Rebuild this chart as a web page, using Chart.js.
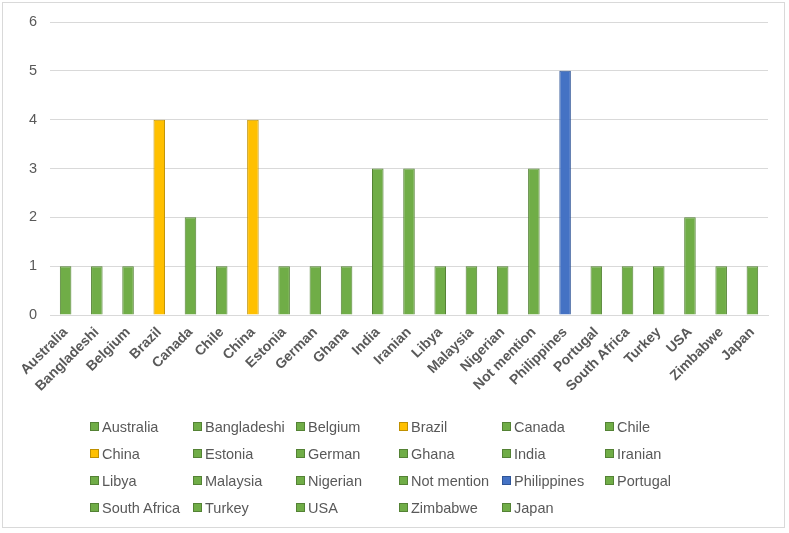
<!DOCTYPE html>
<html>
<head>
<meta charset="utf-8">
<script src="https://cdn.jsdelivr.net/npm/chart.js@4.4.1/dist/chart.umd.min.js"></script>
<style>
  html, body { margin: 0; padding: 0; background: #ffffff; }
  #wrap { position: relative; width: 789px; height: 533px; overflow: hidden; }
  #frame { position: absolute; left: 2px; top: 2px; width: 783px; height: 526px; border: 1px solid #d9d9d9; box-sizing: border-box; pointer-events: none; }
  #c { position: absolute; left: 0; top: 0; }
  #legend { position: absolute; left: 90px; top: 413px; display: grid; grid-template-columns: repeat(6, 103px); grid-auto-rows: 27px; font-family: "Liberation Sans", Arial, sans-serif; font-size: 14.5px; color: #595959; }
  .li { display: flex; align-items: center; white-space: nowrap; }
  .sw { width: 7px; height: 7px; border: 1px solid; margin-right: 3px; flex: none; }
</style>
</head>
<body>
<div id="wrap">
  <canvas id="c" width="789" height="533"></canvas>
  <div id="legend"></div>
  <div id="frame"></div>
</div>
<script>
// ---- data ----
const categories = ["Australia","Bangladeshi","Belgium","Brazil","Canada","Chile","China","Estonia","German","Ghana","India","Iranian","Libya","Malaysia","Nigerian","Not mention","Philippines","Portugal","South Africa","Turkey","USA","Zimbabwe","Japan"];
const counts = [1,1,1,4,2,1,4,1,1,1,3,3,1,1,1,3,5,1,1,1,2,1,1];
const yTicks = [0,1,2,3,4,5,6];

// ---- styles ----
const palette = {
  green:  { fill: "#70AD47", border: "#548235" },
  yellow: { fill: "#FFC000", border: "#BF9000" },
  blue:   { fill: "#4472C4", border: "#2F5597" }
};
const highlight = { "Brazil": "yellow", "China": "yellow", "Philippines": "blue" };
const styleOf = name => palette[highlight[name] || "green"];
const fills = categories.map(n => styleOf(n).fill);
const borders = categories.map(n => styleOf(n).border);

const grey = "#595959";
const chart = new Chart(document.getElementById("c"), {
  type: "bar",
  data: {
    labels: categories,
    datasets: [{
      data: counts,
      backgroundColor: fills,
      borderColor: borders,
      borderWidth: 1,
      barPercentage: 0.37,
      categoryPercentage: 1.0
    }]
  },
  options: {
    responsive: false,
    animation: false,
    layout: { padding: { left: 0, right: 21, top: 22, bottom: 138 } },
    plugins: { legend: { display: false }, tooltip: { enabled: false } },
    scales: {
      x: {
        offset: true,
        grid: { display: false, drawTicks: false },
        border: { display: true, color: "#d9d9d9", width: 1 },
        ticks: {
          autoSkip: false, maxRotation: 45, minRotation: 45, padding: 9,
          color: grey, font: { family: "'Liberation Sans', Arial, sans-serif", size: 14, weight: "bold" }
        },
        afterFit: s => { s.height = 80; }
      },
      y: {
        min: 0, max: 6,
        afterBuildTicks: s => { s.ticks = yTicks.map(v => ({ value: v })); },
        grid: { color: "#d9d9d9", lineWidth: 1, drawTicks: false },
        border: { display: false },
        ticks: {
          padding: 13, color: grey,
          font: { family: "'Liberation Sans', Arial, sans-serif", size: 14.5 }
        },
        afterFit: s => { s.width = 50; }
      }
    }
  }
});

// ---- legend (one entry per category) ----
const lg = document.getElementById("legend");
categories.forEach((name, i) => {
  const item = document.createElement("div");
  item.className = "li";
  const sw = document.createElement("span");
  sw.className = "sw";
  sw.style.background = fills[i];
  sw.style.borderColor = borders[i];
  const tx = document.createElement("span");
  tx.textContent = name;
  item.appendChild(sw);
  item.appendChild(tx);
  lg.appendChild(item);
});
</script>
</body>
</html>
